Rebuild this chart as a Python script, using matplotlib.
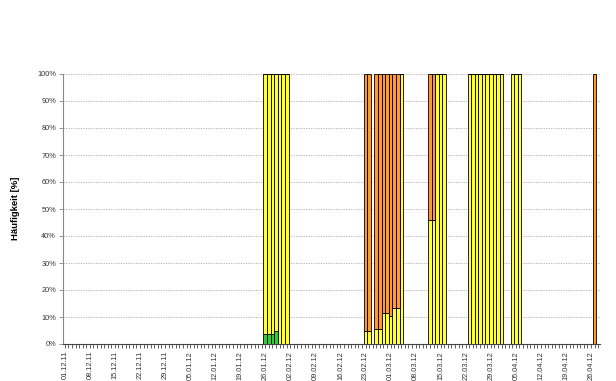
import matplotlib
matplotlib.use("Agg")
import matplotlib.pyplot as plt
import numpy as np
import pandas as pd

plt.rcParams['font.family'] = ['Liberation Sans', 'DejaVu Sans']

# Categories: daily from 01.12.11 to 28.04.12
start_date = "2011-12-01"
end_date = "2012-04-28"

# Days with data and their shares [%]
days = ["26.01.12", "27.01.12", "28.01.12", "29.01.12", "30.01.12", "31.01.12", "01.02.12",
        "23.02.12", "24.02.12",
        "26.02.12", "27.02.12", "28.02.12", "29.02.12", "01.03.12", "02.03.12", "03.03.12", "04.03.12",
        "12.03.12", "13.03.12", "14.03.12", "15.03.12", "16.03.12",
        "23.03.12", "24.03.12", "25.03.12", "26.03.12", "27.03.12", "28.03.12", "29.03.12", "30.03.12",
        "31.03.12", "01.04.12",
        "04.04.12", "05.04.12", "06.04.12",
        "27.04.12"]
green = [3.7, 3.7, 3.7, 4.8, 0, 0, 0,
         0, 0,
         0, 0, 0, 0, 0, 0, 0, 0,
         0, 0, 0, 0, 0,
         0, 0, 0, 0, 0, 0, 0, 0, 0, 0,
         0, 0, 0,
         0]
yellow = [96.3, 96.3, 96.3, 95.2, 100, 100, 100,
          4.7, 4.7,
          5.5, 5.5, 11.5, 11.5, 10.5, 13.5, 13.5, 100,
          46, 46, 100, 100, 100,
          100, 100, 100, 100, 100, 100, 100, 100, 100, 100,
          100, 100, 100,
          0]
orange = [0, 0, 0, 0, 0, 0, 0,
          95.3, 95.3,
          94.5, 94.5, 88.5, 88.5, 89.5, 86.5, 86.5, 0,
          54, 54, 0, 0, 0,
          0, 0, 0, 0, 0, 0, 0, 0, 0, 0,
          0, 0, 0,
          100]

dates = pd.date_range(start_date, end_date, freq="D")
labels = [d.strftime("%d.%m.%y") for d in dates]
n = len(labels)
g = np.zeros(n); y = np.zeros(n); o = np.zeros(n)
idx = {lab: i for i, lab in enumerate(labels)}
for d, gv, yv, ov in zip(days, green, yellow, orange):
    i = idx[d]
    g[i], y[i], o[i] = gv, yv, ov

fig = plt.figure(figsize=(6.16, 3.81), dpi=100)
ax = fig.add_axes([63/616, 1-344/381, (600-63)/616, (344-74)/381])
x = np.arange(n)
kw = dict(width=1.0, edgecolor='black', linewidth=0.6, zorder=3)
mask = (g + y + o) > 0
ax.bar(x[mask], g[mask], color='#33CC33', **kw)
ax.bar(x[mask], y[mask], bottom=g[mask], color='#FFFF33', **kw)
ax.bar(x[mask], o[mask], bottom=(g+y)[mask], color='#FF9933', **kw)

ax.set_xlim(-0.5, n - 0.5)
ax.set_ylim(0, 100)
ax.set_yticks(np.arange(0, 101, 10))
ax.set_yticklabels([f"{v}%" for v in range(0, 101, 10)], fontsize=5.3, color='#333333')
ax.yaxis.grid(True, linestyle=(0, (1.5, 1.5)), color='#AAAAAA', linewidth=0.6, zorder=0)
ax.set_xticks(x[::7])
ax.set_xticklabels(labels[::7], rotation=90, fontsize=5.3, color='#333333')
ax.set_xticks(x, minor=True)
ax.tick_params(axis='x', which='both', length=3, width=0.6, color='#444444', pad=2)
ax.tick_params(axis='y', length=3, width=0.6, color='#888888', pad=2)
for s in ['top', 'right']:
    ax.spines[s].set_visible(False)
ax.spines['left'].set_color('#888888')
ax.spines['left'].set_linewidth(0.8)
ax.spines['bottom'].set_color('#444444')
ax.spines['bottom'].set_linewidth(0.8)

fig.text(15/616, 1-208/381, "Häufigkeit [%]", rotation=90, fontsize=6.8, fontweight='bold',
         ha='center', va='center')

fig.savefig("out.png", dpi=100)
